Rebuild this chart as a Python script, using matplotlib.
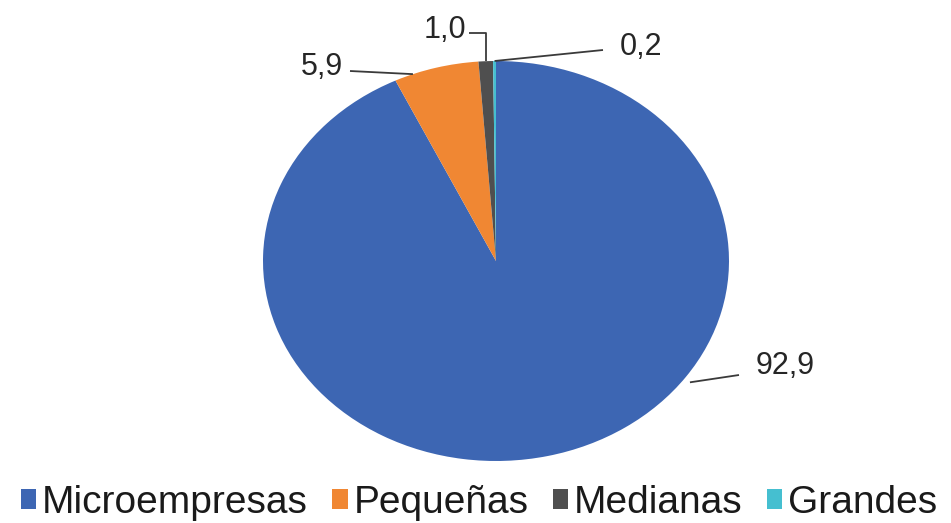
import numpy as np
import matplotlib
matplotlib.use("Agg")
import matplotlib.pyplot as plt

plt.rcParams['font.family'] = ['Liberation Sans', 'DejaVu Sans']

categories = ["Microempresas", "Pequeñas", "Medianas", "Grandes"]
values = [92.9, 5.9, 1.0, 0.2]
labels = ["92,9", "5,9", "1,0", "0,2"]
colors = ["#3D66B3", "#F08733", "#4F4F4F", "#45BFD0"]

W, H = 951, 523
fig = plt.figure(figsize=(W / 100, H / 100), dpi=100)
ax = fig.add_axes([0, 0, 1, 1])

# pie geometry in pixels (center, radii) -> axis limits
cx, cy, rx, ry = 496, 261, 233, 200
wedges, _ = ax.pie(values, colors=colors, startangle=90, counterclock=False,
                   wedgeprops=dict(linewidth=0))
ax.set_aspect('auto')
ax.set_xlim(-cx / rx, (W - cx) / rx)
ax.set_ylim(-(H - cy) / ry, cy / ry)
ax.axis('off')


def px(x, y):
    """pixel (from top-left) -> data coordinates"""
    return (x - cx) / rx, (cy - y) / ry


def edge_point(w, frac, r=1.0):
    a = np.deg2rad(w.theta1 + frac * (w.theta2 - w.theta1))
    return r * np.cos(a), r * np.sin(a)


txt_kw = dict(fontsize=22, color="#262626", ha="center", va="center")
line_kw = dict(color="#3A3A3A", lw=1.3, solid_capstyle="butt")

# 92,9
w = wedges[0]
ex, ey = edge_point(w, 0.623, 1.03)
sx, sy = px(739, 375)
ax.plot([ex, sx], [ey, sy], **line_kw)
ax.text(*px(785, 366), labels[0], **txt_kw)

# 5,9
w = wedges[1]
ex, ey = edge_point(w, 0.78, 1.0)
sx, sy = px(350, 71)
ax.plot([sx, ex], [sy, ey], **line_kw)
ax.text(*px(322, 67), labels[1], **txt_kw)

# 1,0
w = wedges[2]
ex, ey = edge_point(w, 0.5, 1.0)
_, hy = px(0, 33)
sx, _ = px(469, 0)
ax.plot([sx, ex, ex], [hy, hy, ey], **line_kw)
ax.text(*px(445, 30), labels[2], **txt_kw)

# 0,2
w = wedges[3]
ex, ey = edge_point(w, 0.5, 1.0)
sx, sy = px(603, 50)
ax.plot([sx, ex], [sy, ey], **line_kw)
ax.text(*px(641, 47), labels[3], **txt_kw)

leg = fig.legend(wedges, categories, loc="center", bbox_to_anchor=(479 / W, 1 - 503 / H),
                 ncol=4, frameon=False, fontsize=28, handlelength=0.4, handleheight=0.4,
                 handletextpad=0.15, columnspacing=0.62, borderpad=0, borderaxespad=0)
for t in leg.get_texts():
    t.set_color("#1A1A1A")

fig.savefig("out.png", dpi=100, facecolor="white")
